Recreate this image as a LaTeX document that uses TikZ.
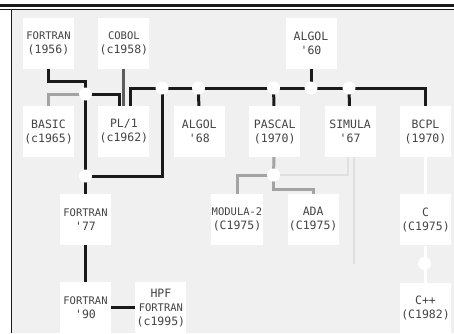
\documentclass[tikz,border=0pt]{standalone}
\usepackage{fontspec}
\setmonofont{DejaVu Sans Mono}
\usepackage{xcolor}
\definecolor{panel}{HTML}{F0F0F0}
\definecolor{ink}{HTML}{1A1A1A}
\definecolor{inkmid}{HTML}{5C5C5C}
\definecolor{inksoft}{HTML}{A3A3A3}
\definecolor{inkpale}{HTML}{E0E0E0}
\definecolor{labeltext}{HTML}{444444}
\usepackage{tikz}
\usetikzlibrary{positioning}
\newcommand{\smallword}[1]{{\fontsize{10.5}{14}\selectfont #1}}

\begin{document}
\begin{tikzpicture}[x=1pt, y=-1pt,
  lang/.style={fill=white, minimum width=51pt, minimum height=51pt,
    inner sep=1pt, align=center, text=labeltext,
    font=\ttfamily\fontsize{11.5}{14}\selectfont},
  heavy/.style={ink, line width=3pt},
  mid/.style={inkmid, line width=3pt},
  soft/.style={inksoft, line width=3pt},
  pale/.style={inkpale, line width=2.5pt},
  blank/.style={white, line width=3pt},
  node distance=37pt and 24pt]

  \useasboundingbox (0,0) rectangle (454,333);

  % Kopfleiste und Rahmen
  \fill[ink] (0,3.5) rectangle (454,6.5);
  \fill[panel] (11.5,10) rectangle (454,333);
  \draw[ink, line width=1pt] (0,9.5) -- (454,9.5);
  \draw[ink, line width=1pt] (11.5,9.5) -- (11.5,333);

  % Erste Generation
  \node[lang] at (48.5,43) (fortran) {\smallword{FORTRAN}\\(1956)};
  \node[lang, right=of fortran] (cobol) {\smallword{COBOL}\\(c1958)};
  \node[lang] at (311,43) (algolsixty) {ALGOL\\'60};

  % Zweite Reihe
  \node[lang] at (48.5,131.5) (basic) {BASIC\\(c1965)};
  \node[lang, right=of basic] (pli) {PL/1\\(c1962)};
  \node[lang, right=of pli] (algolsixtyeight) {ALGOL\\'68};
  \node[lang, right=of algolsixtyeight] (pascal) {PASCAL\\(1970)};
  \node[lang, right=of pascal] (simula) {SIMULA\\'67};
  \node[lang, right=of simula] (bcpl) {BCPL\\(1970)};

  % Dritte und vierte Reihe
  \node[lang] at (85.5,219.5) (fortranseventyseven) {\smallword{FORTRAN}\\'77};
  \node[lang] at (237,219.5) (modula) {\smallword{MODULA-2}\\(C1975)};
  \node[lang, right=of modula] (ada) {ADA\\(C1975)};
  \node[lang, below=of bcpl] (c) {C\\(C1975)};
  \node[lang, below=of fortranseventyseven] (fortranninety) {\smallword{FORTRAN}\\'90};
  \node[lang, right=of fortranninety] (hpf) {HPF\\\smallword{FORTRAN}\\(c1995)};
  \node[lang, below=of c] (cpp) {C++\\(C1982)};

  % Verzweigungspunkte
  \coordinate (jf) at (85.5,94);
  \coordinate (jff) at (85.5,176);
  \coordinate (ja1) at (162,88);
  \coordinate (ja2) at (198.5,88);
  \coordinate (ja3) at (273.5,88);
  \coordinate (ja4) at (311,88);
  \coordinate (ja5) at (349,88);
  \coordinate (jp) at (273.5,175);
  \coordinate (jc) at (424.5,263.5);
  \coordinate (simend) at ([xshift=4pt]simula.south |- jc);

  % FORTRAN-Linie
  \draw[heavy] (fortran.south) -- ++(0,13) -| (jf);
  \draw[heavy] (jf) -| ([xshift=-4.5pt]pli.north);
  \draw[soft] (basic) |- (jf);
  \draw[mid] (cobol) -- (pli);
  \draw[heavy] (jf) -- (fortranseventyseven);
  \draw[heavy] (fortranseventyseven) -- (fortranninety);
  \draw[heavy] (fortranninety) -- (hpf);

  % ALGOL-Linie
  \draw[heavy] ([xshift=6.5pt]pli.north) |- (ja1) -- (ja5) -| (bcpl);
  \draw[heavy] (algolsixty) -- (ja4);
  \foreach \a/\b in {ja2/algolsixtyeight, ja3/pascal, ja5/simula}
    \draw[heavy] (\a) -- (\b);
  \draw[heavy] (ja1) |- (jff);

  % Nachfolger von PASCAL und SIMULA
  \draw[soft] (pascal) -- (jp);
  \draw[soft] (jp) -| (modula);
  \draw[soft] (jp) -- ++(0,14) -| (ada);
  \draw[pale] ([xshift=-2pt]simula.south) |- (jp);
  \draw[pale] ([xshift=4pt]simula.south) -- (simend);

  % BCPL-Linie
  \draw[blank] (bcpl) -- (c);
  \draw[blank] (c) -- (cpp);

  \foreach \j in {jf, jff, ja1, ja2, ja3, ja4, ja5, jp, jc}
    \fill[white] (\j) circle (6.5pt);
\end{tikzpicture}
\end{document}
